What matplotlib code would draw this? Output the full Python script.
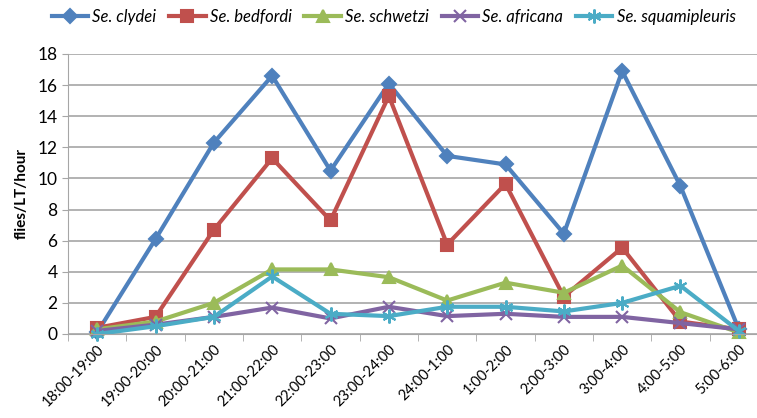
import matplotlib
matplotlib.use('Agg')
import matplotlib.pyplot as plt
import numpy as np

plt.rcParams['font.family'] = ['Lato', 'DejaVu Sans']

hours = ["18:00-19:00", "19:00-20:00", "20:00-21:00", "21:00-22:00",
         "22:00-23:00", "23:00-24:00", "24:00-1:00", "1:00-2:00",
         "2:00-3:00", "3:00-4:00", "4:00-5:00", "5:00-6:00"]

clydei = [0.1, 6.1, 12.3, 16.6, 10.5, 16.1, 11.45, 10.9, 6.45, 16.9, 9.5, 0.3]
bedfordi = [0.4, 1.1, 6.7, 11.3, 7.3, 15.3, 5.75, 9.65, 2.4, 5.55, 0.8, 0.3]
schwetzi = [0.3, 0.8, 2.0, 4.15, 4.15, 3.65, 2.15, 3.3, 2.65, 4.4, 1.4, 0.1]
africana = [0.2, 0.6, 1.1, 1.7, 1.0, 1.75, 1.15, 1.3, 1.1, 1.1, 0.7, 0.3]
squamipleuris = [0.0, 0.5, 1.1, 3.7, 1.3, 1.15, 1.75, 1.75, 1.45, 2.0, 3.1, 0.2]

series = [
    ("Se. clydei", clydei, "#4F81BD", "D", 7),
    ("Se. bedfordi", bedfordi, "#C0504D", "s", 8),
    ("Se. schwetzi", schwetzi, "#9BBB59", "^", 9),
    ("Se. africana", africana, "#8064A2", "x", 8),
    ("Se. squamipleuris", squamipleuris, "#4BACC6", (6, 2, 0), 10),
]

fig = plt.figure(figsize=(7.57, 4.18), dpi=100)
ax = fig.add_axes([68 / 757, 84 / 418, 700 / 757, 280 / 418])

x = np.arange(len(hours))
for name, vals, col, mk, ms in series:
    ax.plot(x, vals, color=col, lw=3, marker=mk, markersize=ms,
            markeredgecolor=col, markeredgewidth=1.5, label=name,
            clip_on=False)

ax.set_xlim(-0.5, 11.5)
ax.set_ylim(0, 18)
ax.set_yticks(range(0, 19, 2))
ax.yaxis.grid(True, color="#A6A6A6", lw=1.2)
ax.set_axisbelow(True)

ax.set_xticks(x)
ax.set_xticklabels(hours, rotation=45, ha="right", va="top",
                   rotation_mode="anchor", fontsize=10.5)
ax.tick_params(axis="x", length=0, pad=6)
ax.set_xticks(np.arange(-0.5, 12, 1), minor=True)
ax.tick_params(axis="x", which="minor", length=5, color="#A6A6A6")
ax.tick_params(axis="y", length=4, color="#A6A6A6", labelsize=12.5)

for s in ["top", "right"]:
    ax.spines[s].set_visible(False)
for s in ["left", "bottom"]:
    ax.spines[s].set_color("#A6A6A6")

ax.set_ylabel("flies/LT/hour", fontweight="bold", fontsize=11, labelpad=6)

leg = fig.legend(loc="upper center", bbox_to_anchor=(0.52, 1.015), ncol=5,
                 frameon=False, prop={"style": "italic", "size": 12},
                 handlelength=2.2, handletextpad=0.25, columnspacing=0.75)

fig.savefig("out.png", dpi=100)
